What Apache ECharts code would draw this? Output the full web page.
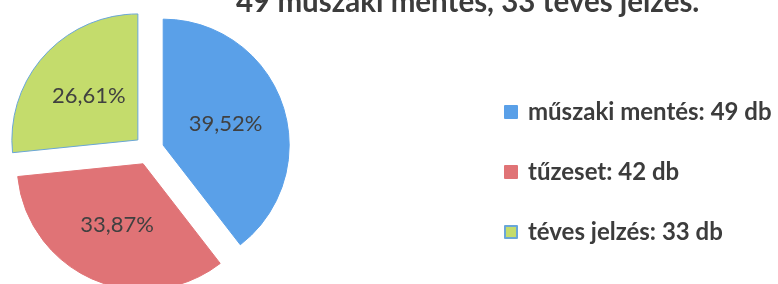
<!DOCTYPE html>
<html>
<head>
<meta charset="utf-8">
<script src="https://cdn.jsdelivr.net/npm/echarts@6/dist/echarts.min.js"></script>
<style>html,body{margin:0;padding:0;background:#fff;}#c{width:778px;height:284px;}</style>
</head>
<body>
<div id="c"></div>
<script>
const categories = ['műszaki mentés', 'tűzeset', 'téves jelzés'];
const values = [49, 42, 33];
const colors = ['#5aa0e8', '#e07376', '#c4dc6c'];
const borders = ['#5aa0e8', '#e07376', '#6aa6d8'];
const titleText = '49 műszaki mentés, 33 téves jelzés.';

const total = values.reduce((a, b) => a + b, 0);
const chart = echarts.init(document.getElementById('c'));
chart.setOption({
  animation: false,
  title: {
    text: titleText,
    left: 231,
    top: -18,
    textStyle: { fontFamily: 'Lato', fontWeight: 'bold', fontSize: 29.5, color: '#3c3c3c' }
  },
  legend: {
    orient: 'vertical',
    left: 499,
    top: 95,
    itemWidth: 12,
    itemHeight: 12,
    itemGap: 36,
    icon: 'rect',
    selectedMode: false,
    data: categories,
    formatter: function (name) {
      const i = categories.indexOf(name);
      return name + ': ' + values[i] + ' db';
    },
    textStyle: { fontFamily: 'Lato', fontWeight: 'bold', fontSize: 24, color: '#3c3c3c', padding: [0, 0, 0, 6] }
  },
  series: [{
    type: 'pie',
    center: [149, 150],
    radius: [0, 126],
    startAngle: 90,
    clockwise: true,
    selectedMode: 'multiple',
    selectedOffset: 15,
    emphasis: { disabled: true },
    label: {
      position: 'inner',
      fontFamily: 'Lato',
      fontSize: 22,
      color: '#404040',
      formatter: function (p) {
        return (p.value / total * 100).toFixed(2).replace('.', ',') + '%';
      }
    },
    labelLine: { show: false },
    data: categories.map((c, i) => ({
      name: c, value: values[i], selected: true,
      itemStyle: { color: colors[i], borderColor: borders[i], borderWidth: 1 },
      select: { itemStyle: { color: colors[i], borderColor: borders[i], borderWidth: 1 } }
    }))
  }]
});
</script>
</body>
</html>
